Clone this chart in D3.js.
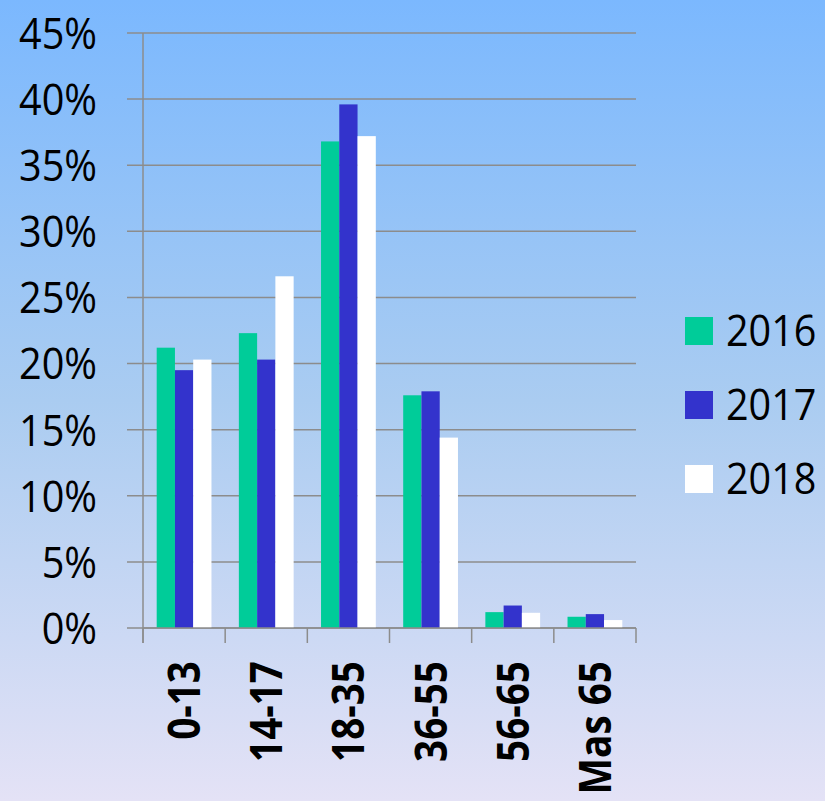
<!DOCTYPE html>
<html>
<head>
<meta charset="utf-8">
<script src="https://cdn.jsdelivr.net/npm/d3@7"></script>
<style>
  body { margin: 0; padding: 0; }
  svg { display: block; }
  .axisText { font-family: "Open Sans", sans-serif; }
</style>
</head>
<body>
<div class="chart"></div>
<script>
var categories = ["0-13", "14-17", "18-35", "36-55", "56-65", "Mas 65"];
var years = ["2016", "2017", "2018"];
var colors = ["#00CC99", "#3333CC", "#FFFFFF"];
var values2016 = [21.2, 22.3, 36.8, 17.6, 1.2, 0.85];
var values2017 = [19.5, 20.3, 39.6, 17.9, 1.7, 1.05];
var values2018 = [20.3, 26.6, 37.2, 14.4, 1.15, 0.6];
var yTicks = [0, 5, 10, 15, 20, 25, 30, 35, 40, 45];

var seriesValues = [values2016, values2017, values2018];

var svgWidth = 825;
var svgHeight = 801;

var margin = { top: 33, left: 143 };
var width = 636 - margin.left;
var height = 628 - margin.top;

var svg = d3.select(".chart")
  .append("svg")
  .attr("width", svgWidth)
  .attr("height", svgHeight);

// Background gradient
var defs = svg.append("defs");
var grad = defs.append("linearGradient")
  .attr("id", "bg")
  .attr("x1", 0).attr("y1", 0)
  .attr("x2", 0).attr("y2", 1);
grad.append("stop").attr("offset", "0%").attr("stop-color", "#7BB8FE");
grad.append("stop").attr("offset", "50%").attr("stop-color", "#AACCF1");
grad.append("stop").attr("offset", "100%").attr("stop-color", "#E4E2F6");

svg.append("rect")
  .attr("width", svgWidth)
  .attr("height", svgHeight)
  .attr("fill", "url(#bg)");

var chartGroup = svg.append("g")
  .attr("transform", `translate(${margin.left}, ${margin.top})`);

var xScale = d3.scaleBand()
  .domain(categories)
  .range([0, width]);

var xInner = d3.scaleBand()
  .domain(years)
  .range([xScale.bandwidth() / 6, xScale.bandwidth() * 5 / 6]);

var yScale = d3.scaleLinear()
  .domain([0, 45])
  .range([height, 0]);

// Gridlines
chartGroup.append("g")
  .selectAll("line")
  .data(yTicks)
  .enter()
  .append("line")
  .attr("x1", -16)
  .attr("x2", width)
  .attr("y1", d => yScale(d))
  .attr("y2", d => yScale(d))
  .attr("stroke", "#8C8C8C")
  .attr("stroke-width", 1.5);

// Y axis line
chartGroup.append("line")
  .attr("x1", 0).attr("x2", 0)
  .attr("y1", 0).attr("y2", height + 15)
  .attr("stroke", "#8C8C8C")
  .attr("stroke-width", 1.5);

// Bars
var groups = chartGroup.selectAll(".group")
  .data(categories)
  .enter()
  .append("g")
  .attr("transform", d => `translate(${xScale(d)}, 0)`);

groups.selectAll("rect")
  .data((d, i) => years.map((y, j) => ({ year: y, value: seriesValues[j][i], color: colors[j] })))
  .enter()
  .append("rect")
  .attr("x", d => xInner(d.year))
  .attr("width", xInner.bandwidth())
  .attr("y", d => yScale(d.value))
  .attr("height", d => height - yScale(d.value))
  .attr("fill", d => d.color);

// X axis
var bottomAxis = d3.axisBottom(xScale).tickSize(0).tickFormat("");
var xAxisG = chartGroup.append("g")
  .attr("transform", `translate(0, ${height})`)
  .call(bottomAxis);
xAxisG.select(".domain").remove();

var boundaries = categories.map(c => xScale(c)).concat([width]);
xAxisG.selectAll(".sep")
  .data(boundaries)
  .enter()
  .append("line")
  .attr("x1", d => d).attr("x2", d => d)
  .attr("y1", 0).attr("y2", 15)
  .attr("stroke", "#8C8C8C")
  .attr("stroke-width", 1.5);

xAxisG.append("line")
  .attr("x1", 0).attr("x2", width)
  .attr("y1", 0).attr("y2", 0)
  .attr("stroke", "#8C8C8C")
  .attr("stroke-width", 1.5);

// X labels, rotated (squeezed a little to mimic the narrower original face)
chartGroup.selectAll(".xlabel")
  .data(categories)
  .enter()
  .append("text")
  .attr("class", "axisText")
  .attr("transform", d => `translate(${xScale(d) + xScale.bandwidth() / 2 + 16}, ${height + 33}) rotate(-90) scale(0.88, 1)`)
  .attr("text-anchor", "end")
  .attr("font-size", 44)
  .attr("font-weight", "bold")
  .attr("fill", "#000")
  .text(d => d);

// Y labels
chartGroup.selectAll(".ylabel")
  .data(yTicks)
  .enter()
  .append("text")
  .attr("class", "axisText")
  .attr("transform", d => `translate(-46, ${yScale(d)}) scale(0.9, 1)`)
  .attr("dy", "0.36em")
  .attr("text-anchor", "end")
  .attr("font-size", 44)
  .attr("fill", "#000")
  .text(d => d + "%");

// Legend
var legend = svg.append("g")
  .attr("transform", "translate(685, 331)");

var legendItems = legend.selectAll("g")
  .data(years)
  .enter()
  .append("g")
  .attr("transform", (d, i) => `translate(0, ${i * 74})`);

legendItems.append("rect")
  .attr("x", 0)
  .attr("y", -14)
  .attr("width", 28)
  .attr("height", 28)
  .attr("fill", (d, i) => colors[i]);

legendItems.append("text")
  .attr("class", "axisText")
  .attr("transform", "translate(41, 0) scale(0.92, 1)")
  .attr("dy", "0.36em")
  .attr("font-size", 43)
  .attr("fill", "#000")
  .text(d => d);
</script>
</body>
</html>
